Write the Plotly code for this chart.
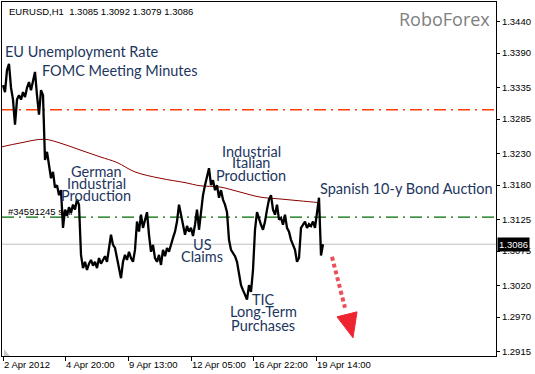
import plotly.graph_objects as go

# ---- data (EURUSD H1, 2-19 Apr 2012) ----
close = [
    1.3339, 1.3328, 1.3363, 1.3373, 1.3335, 1.3316, 1.3276, 1.3316, 1.3323, 1.3316,
    1.3328, 1.3320, 1.3335, 1.3344, 1.3331, 1.3347, 1.3360, 1.3323, 1.3292, 1.3331,
    1.3323, 1.3220, 1.3233, 1.3212, 1.3191, 1.3201, 1.3176, 1.3180, 1.3164, 1.3172,
    1.3112, 1.3141, 1.3131, 1.3145, 1.3136, 1.3149, 1.3141, 1.3157, 1.3149, 1.3069,
    1.3048, 1.3058, 1.3045, 1.3055, 1.3061, 1.3052, 1.3058, 1.3048, 1.3064, 1.3055,
    1.3061, 1.3067, 1.3058, 1.3077, 1.3101, 1.3085, 1.3080, 1.3064, 1.3045, 1.3032,
    1.3058, 1.3069, 1.3061, 1.3074, 1.3064, 1.3058, 1.3077, 1.3122, 1.3106, 1.3133,
    1.3112, 1.3125, 1.3137, 1.3101, 1.3074, 1.3085, 1.3064, 1.3058, 1.3069, 1.3053,
    1.3077, 1.3067, 1.3080, 1.3074, 1.3087, 1.3096, 1.3106, 1.3122, 1.3149, 1.3133,
    1.3112, 1.3101, 1.3115, 1.3106, 1.3112, 1.3099, 1.3117, 1.3141, 1.3109, 1.3137,
    1.3164, 1.3180, 1.3196, 1.3207, 1.3180, 1.3188, 1.3172, 1.3180, 1.3160, 1.3172,
    1.3157, 1.3149, 1.3137, 1.3093, 1.3077, 1.3071, 1.3067, 1.3058, 1.3042, 1.3021,
    1.3013, 1.3005, 1.2998, 1.3021, 1.3010, 1.3045, 1.3109, 1.3137, 1.3125, 1.3117,
    1.3109, 1.3122, 1.3141, 1.3157, 1.3164, 1.3141, 1.3133, 1.3149, 1.3125, 1.3128,
    1.3117, 1.3133, 1.3112, 1.3106, 1.3093, 1.3085, 1.3077, 1.3058, 1.3064, 1.3112,
    1.3117, 1.3122, 1.3112, 1.3118, 1.3115, 1.3122, 1.3112, 1.3133, 1.3160, 1.3068,
    1.3086,
]
# bar index (hours) of each sampled close, every 2 bars
bar_index = list(range(1, 2 * len(close), 2))

ma_index = [0, 18, 42, 58, 78, 98, 115, 133, 158, 183, 198, 218, 238, 258, 278, 298, 318]
ma_value = [1.3241, 1.3247, 1.3253, 1.3247, 1.3236, 1.3225, 1.3216, 1.3201, 1.3191,
            1.3184, 1.3179, 1.3177, 1.3169, 1.3161, 1.3158, 1.3155, 1.3152]

resistance = 1.3300
order_level = 1.3129
bid = 1.3086

y_ticks = [1.2915, 1.2970, 1.3020, 1.3075, 1.3125, 1.3180, 1.3230, 1.3285, 1.3335, 1.3390, 1.3440]
x_tick_pos = [1, 63, 126, 189, 251, 314]
x_tick_text = ["2 Apr 2012", "4 Apr 20:00", "9 Apr 13:00", "12 Apr 05:00", "16 Apr 22:00", "19 Apr 14:00"]

# news labels: (bar index, price, text, anchor)
news = [
    (1, 1.33918, "EU Unemployment Rate", "left"),
    (38, 1.33616, "FOMC Meeting Minutes", "left"),
    (94, 1.32010, "German", "center"),
    (94, 1.31819, "Industrial", "center"),
    (94, 1.31629, "Production", "center"),
    (249, 1.32333, "Industrial", "center"),
    (249, 1.32153, "Italian", "center"),
    (249, 1.31951, "Production", "center"),
    (316, 1.31740, "Spanish 10-y Bond Auction", "left"),
    (200, 1.30850, "US", "center"),
    (200, 1.30659, "Claims", "center"),
    (261, 1.29975, "TIC", "center"),
    (261, 1.29784, "Long-Term", "center"),
    (261, 1.29562, "Purchases", "center"),
]

# forecast arrow (bar index, price)
arrow_start = (330, 1.30659)
arrow_end = (343, 1.29848)
arrow_head = [(335, 1.29705), (355, 1.29784), (351, 1.29371)]

fig = go.Figure()

fig.add_trace(go.Scatter(x=ma_index, y=ma_value, mode="lines",
                         line=dict(color="#8b0000", width=1, shape="spline"),
                         hoverinfo="skip", showlegend=False))
fig.add_trace(go.Scatter(x=bar_index, y=close, mode="lines",
                         line=dict(color="black", width=2.3),
                         showlegend=False))

shapes = [
    dict(type="line", xref="paper", x0=0, x1=1, yref="y", y0=resistance, y1=resistance,
         line=dict(color="#ff4000", width=1.4, dash="12px,5px,2px,5px"), layer="below"),
    dict(type="line", xref="paper", x0=0, x1=1, yref="y", y0=order_level, y1=order_level,
         line=dict(color="#006a00", width=1.3, dash="12px,5px,2px,5px"), layer="below"),
    dict(type="line", xref="paper", x0=0, x1=1, yref="y", y0=bid, y1=bid,
         line=dict(color="#c0c0c0", width=1), layer="below"),
    dict(type="line", xref="x", yref="y", x0=arrow_start[0], y0=arrow_start[1],
         x1=arrow_end[0], y1=arrow_end[1],
         line=dict(color="rgba(232,48,60,0.85)", width=4, dash="4px,3px")),
    dict(type="path", xref="x", yref="y",
         path="M {} {} L {} {} L {} {} Z".format(arrow_head[0][0], arrow_head[0][1],
                                                 arrow_head[1][0], arrow_head[1][1],
                                                 arrow_head[2][0], arrow_head[2][1]),
         fillcolor="#ee2530", line=dict(color="#ee2530", width=1)),
    # small grey corner mark of the terminal window
    dict(type="path", xref="paper", yref="paper",
         path="M 0.004 0 L 0.016 0 L 0.004 0.02 Z", fillcolor="#c8c8c8", line=dict(width=0)),
]

annotations = []
for xi, yi, txt, anc in news:
    annotations.append(dict(x=xi, y=yi, xref="x", yref="y", text=txt, showarrow=False,
                            xanchor=anc, yanchor="middle",
                            font=dict(family="Lato", size=14.5, color="#1c365e")))

annotations += [
    dict(xref="paper", yref="paper", x=5 / 494, y=1 - 9 / 354, text="EURUSD,H1  1.3085 1.3092 1.3079 1.3086",
         showarrow=False, xanchor="left", yanchor="middle",
         font=dict(family="Liberation Sans", size=9.5, color="black")),
    dict(xref="paper", yref="y", x=4 / 494, y=order_level + 0.0009, text="#34591245 sell",
         showarrow=False, xanchor="left", yanchor="middle",
         font=dict(family="Liberation Sans", size=9.5, color="black")),
    dict(xref="paper", yref="paper", x=490 / 494, y=1 - 17 / 354, text="RoboForex",
         showarrow=False, xanchor="right", yanchor="middle",
         font=dict(family="Open Sans", size=18, color="#808080")),
    dict(xref="paper", yref="y", x=1.0, y=bid, text="1.3086", showarrow=False,
         xanchor="left", yanchor="middle", xshift=1, bgcolor="black", borderpad=1,
         font=dict(family="Liberation Sans", size=9.5, color="white")),
]

fig.update_layout(
    width=535, height=374,
    margin=dict(l=2, r=39, t=2, b=18, autoexpand=False),
    paper_bgcolor="white", plot_bgcolor="white",
    shapes=shapes, annotations=annotations,
    xaxis=dict(range=[0, 494], showgrid=False, zeroline=False, automargin=False,
               showline=True, mirror=True, linecolor="black", linewidth=1,
               ticks="outside", ticklen=4, tickcolor="black", tickangle=0,
               tickvals=x_tick_pos, ticktext=x_tick_text,
               ticklabelposition="outside right",
               tickfont=dict(family="Liberation Sans", size=9.5, color="black")),
    yaxis=dict(range=[1.29082, 1.34713], side="right", showgrid=False, zeroline=False,
               automargin=False,
               showline=True, mirror=True, linecolor="black", linewidth=1,
               ticks="outside", ticklen=3, tickcolor="black", ticklabelstandoff=0,
               tickvals=y_ticks, ticktext=["%.4f" % v for v in y_ticks],
               tickfont=dict(family="Liberation Sans", size=9.5, color="black")),
)

fig.write_html("out.html", config={"displayModeBar": False},
               post_script="document.body.style.margin='0';document.body.style.overflow='hidden';")
